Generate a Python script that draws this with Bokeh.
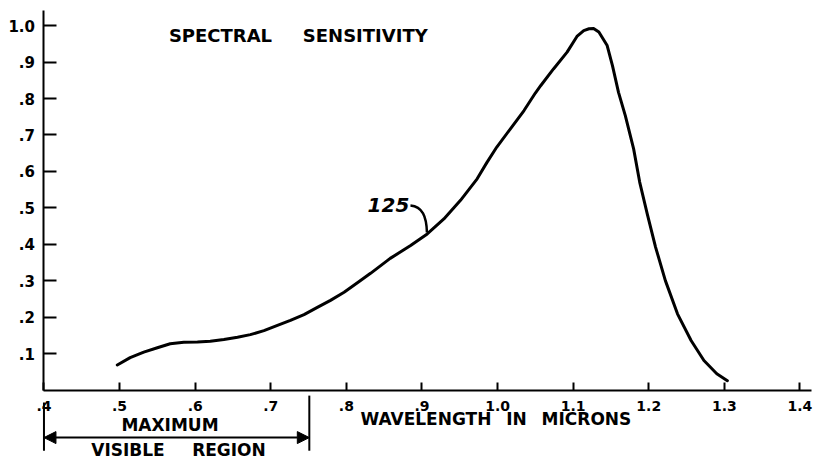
from bokeh.plotting import figure
from bokeh.models import Range1d, FixedTicker, Label, Arrow, NormalHead
from bokeh.embed import file_html
from bokeh.resources import INLINE

# ---- data ----
wavelength = [0.497, 0.514, 0.532, 0.550, 0.567, 0.585, 0.603, 0.620, 0.638, 0.656,
              0.673, 0.691, 0.708, 0.726, 0.744, 0.761, 0.779, 0.797, 0.816, 0.832,
              0.858, 0.885, 0.907, 0.929, 0.951, 0.973, 0.986, 0.999, 1.017, 1.035,
              1.050, 1.057, 1.074, 1.092, 1.105, 1.114, 1.121, 1.127, 1.134, 1.145,
              1.152, 1.160, 1.169, 1.180, 1.188, 1.198, 1.209, 1.222, 1.238, 1.256,
              1.273, 1.290, 1.304]
sensitivity = [0.070, 0.090, 0.105, 0.117, 0.128, 0.132, 0.133, 0.135, 0.140, 0.146,
               0.153, 0.164, 0.178, 0.192, 0.208, 0.227, 0.247, 0.269, 0.297, 0.321,
               0.362, 0.397, 0.429, 0.470, 0.521, 0.580, 0.625, 0.667, 0.717, 0.767,
               0.815, 0.835, 0.881, 0.927, 0.970, 0.986, 0.991, 0.992, 0.982, 0.945,
               0.890, 0.817, 0.753, 0.662, 0.571, 0.484, 0.393, 0.301, 0.210, 0.137,
               0.082, 0.046, 0.027]

x_ticks = [0.4, 0.5, 0.6, 0.7, 0.8, 0.9, 1.0, 1.1, 1.2, 1.3, 1.4]
x_tick_labels = [".4", ".5", ".6", ".7", ".8", ".9", "1.0", "1.1", "1.2", "1.3", "1.4"]
y_ticks = [0.1, 0.2, 0.3, 0.4, 0.5, 0.6, 0.7, 0.8, 0.9, 1.0]
y_tick_labels = [".1", ".2", ".3", ".4", ".5", ".6", ".7", ".8", ".9", "1.0"]

title_words = ["SPECTRAL", "SENSITIVITY"]
x_title_words = ["WAVELENGTH", "IN", "MICRONS"]
visible_top = "MAXIMUM"
visible_bottom_words = ["VISIBLE", "REGION"]
visible_range = [0.4, 0.751]
curve_label = "125"

FONT = "DejaVu Sans"

p = figure(width=816, height=460, output_backend="svg",
           toolbar_location=None, x_range=Range1d(0.3425, 1.4219),
           y_range=Range1d(-0.1918, 1.0685), min_border_left=0, min_border_right=0,
           min_border_top=0, min_border_bottom=0)
p.outline_line_color = None
p.xgrid.visible = False
p.ygrid.visible = False
p.background_fill_color = "white"
p.border_fill_color = "white"

# axes (both drawn inside the frame at their crossing point)
for ax in (p.xaxis, p.yaxis):
    ax.axis_line_width = 2
    ax.axis_line_color = "black"
    ax.major_tick_line_width = 2
    ax.major_tick_line_color = "black"
    ax.minor_tick_line_color = None
    ax.major_tick_out = 0
    ax.major_label_text_font = FONT
    ax.major_label_text_font_style = "bold"
    ax.major_label_text_color = "black"

p.xaxis.fixed_location = 0
p.xaxis.bounds = (0.4, 1.415)
p.xaxis.ticker = FixedTicker(ticks=x_ticks)
p.xaxis.major_label_overrides = dict(zip(x_ticks, x_tick_labels))
p.xaxis.major_tick_in = 8
p.xaxis.major_label_standoff = 11
p.xaxis.major_label_text_font_size = "14px"

p.yaxis.fixed_location = 0.4
p.yaxis.bounds = (0, 1.041)
p.yaxis.ticker = FixedTicker(ticks=y_ticks)
p.yaxis.major_label_overrides = dict(zip(y_ticks, y_tick_labels))
p.yaxis.major_tick_in = 13
p.yaxis.major_label_standoff = 9
p.yaxis.major_label_text_font_size = "15px"

# curve
p.line(wavelength, sensitivity, line_color="black", line_width=3,
       line_join="round", line_cap="round")

# leader hook for "125"
hook_x0, hook_y0, hook_x1, hook_y1 = [0.8848], [0.507], [0.9066], [0.433]
hook_cx0, hook_cy0, hook_cx1, hook_cy1 = [0.9007], [0.504], [0.906], [0.477]
p.bezier(x0=hook_x0, y0=hook_y0, x1=hook_x1, y1=hook_y1,
         cx0=hook_cx0, cy0=hook_cy0, cx1=hook_cx1, cy1=hook_cy1,
         line_color="black", line_width=2.5)

def lab(text, x, y, size, style="bold"):
    p.add_layout(Label(x=x, y=y, text=text, text_font=FONT, text_font_style=style,
                       text_font_size=size, text_align="center",
                       text_baseline="middle", text_color="black"))

lab(title_words[0], 0.6335, 0.973, "18px")
lab(title_words[1], 0.825, 0.973, "18px")
lab(curve_label, 0.8557, 0.508, "20px", "bold italic")
for word, xw in zip(x_title_words, [0.9053, 1.025, 1.1176]):
    lab(word, xw, -0.079, "17px")
lab(visible_top, 0.5667, -0.094, "17px")
for word, xw in zip(visible_bottom_words, [0.5111, 0.6447]):
    lab(word, xw, -0.164, "17px")

# visible region arrow and end bars
p.add_layout(Arrow(x_start=visible_range[0], y_start=-0.129,
                   x_end=visible_range[1], y_end=-0.129, line_width=2,
                   start=NormalHead(size=12, fill_color="black", line_color="black"),
                   end=NormalHead(size=12, fill_color="black", line_color="black")))
p.add_layout(Arrow(x_start=visible_range[0], y_start=-0.033,
                   x_end=visible_range[0], y_end=-0.165, line_width=2, end=None))
p.add_layout(Arrow(x_start=visible_range[1], y_start=-0.014,
                   x_end=visible_range[1], y_end=-0.165, line_width=2, end=None))

open("out.html", "w").write(file_html(p, INLINE))
